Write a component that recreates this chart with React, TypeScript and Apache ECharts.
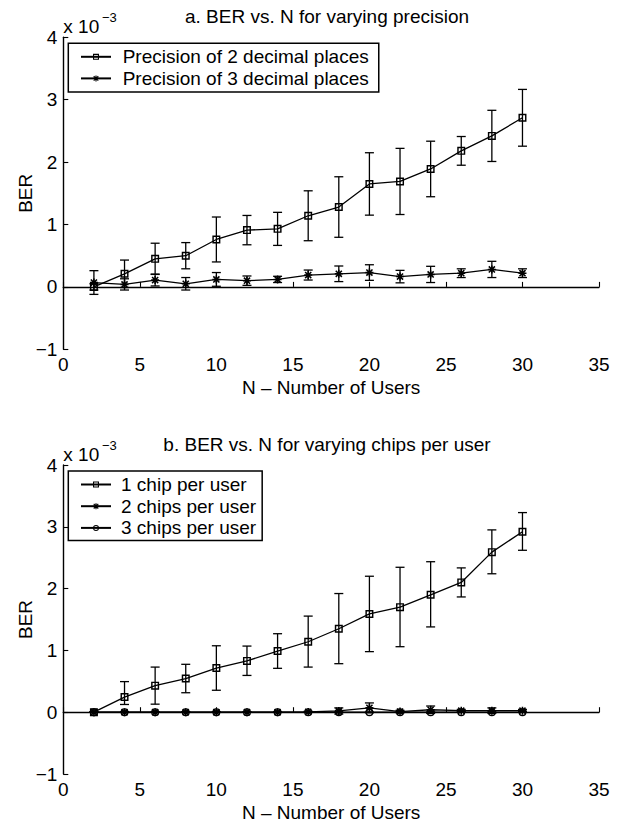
import React, { useEffect, useRef } from "react";
import * as echarts from "echarts";

const N = [2, 4, 6, 8, 10, 12, 14, 16, 18, 20, 22, 24, 26, 28, 30];

const prec2 = [0.0, 0.21, 0.45, 0.5, 0.76, 0.91, 0.93, 1.14, 1.28, 1.65, 1.69, 1.89, 2.18, 2.42, 2.71];
const prec2Err = [0.05, 0.22, 0.25, 0.21, 0.36, 0.235, 0.265, 0.4, 0.485, 0.5, 0.53, 0.445, 0.23, 0.41, 0.455];
const prec3 = [0.07, 0.04, 0.11, 0.05, 0.12, 0.1, 0.12, 0.19, 0.21, 0.23, 0.165, 0.2, 0.22, 0.28, 0.22];
const prec3Err = [0.19, 0.09, 0.095, 0.1, 0.11, 0.075, 0.05, 0.08, 0.125, 0.125, 0.1, 0.13, 0.07, 0.13, 0.07];

const chip1 = [0, 0.245, 0.43, 0.545, 0.715, 0.83, 0.99, 1.14, 1.35, 1.59, 1.7, 1.9, 2.1, 2.59, 2.92];
const chip1ErrHigh = [0, 0.25, 0.3, 0.23, 0.36, 0.24, 0.28, 0.415, 0.57, 0.61, 0.645, 0.535, 0.235, 0.36, 0.31];
const chip1ErrLow = [0, 0.12, 0.3, 0.23, 0.36, 0.235, 0.28, 0.41, 0.565, 0.61, 0.64, 0.52, 0.235, 0.35, 0.3];
const chip2 = [0, 0, 0, 0, 0, 0, 0, 0.005, 0.02, 0.07, 0.01, 0.04, 0.025, 0.025, 0.025];
const chip2Err = [0, 0, 0, 0, 0, 0, 0, 0.01, 0.05, 0.08, 0.02, 0.06, 0.02, 0.045, 0.02];
const chip3 = [0, 0, 0, 0, 0, 0, 0, 0, 0, 0, 0, 0, 0, 0, 0];
const chip3Err = [0, 0, 0, 0, 0, 0, 0, 0, 0, 0, 0, 0, 0, 0, 0];

const titleA = "a. BER vs. N for varying precision";
const titleB = "b. BER vs. N for varying chips per user";
const namesA = ["Precision of 2 decimal places", "Precision of 3 decimal places"];
const namesB = ["1 chip per user", "2 chips per user", "3 chips per user"];
const xName = "N \u2013 Number of Users";
const yName = "BER";

const FONT = "'Liberation Sans', Arial, Helvetica, sans-serif";

const SQUARE = "path://M0 0L20 0L20 20L0 20ZM3.6 3.6L3.6 16.4L16.4 16.4L16.4 3.6Z";
const CIRCLE =
  "path://M10 0A10 10 0 1 1 10 20A10 10 0 1 1 10 0ZM10 3.4A6.6 6.6 0 1 0 10 16.6A6.6 6.6 0 1 0 10 3.4Z";
const STAR =
  "path://M8.1 0L11.9 0L11.9 20L8.1 20ZM0 8.1L20 8.1L20 11.9L0 11.9ZM1 3.7L3.7 1L19 16.3L16.3 19ZM16.3 1L19 3.7L3.7 19L1 16.3Z";

export default function App() {
  const ref = useRef<HTMLDivElement>(null);
  useEffect(() => {
    document.body.style.margin = "0";
    const chart = echarts.init(ref.current!, null, { renderer: "svg" });

    const grids = [
      { left: 63.3, right: 19, top: 37.3, bottom: 823 - 349.3 },
      { left: 63.3, right: 19, top: 465, bottom: 823 - 776.7 },
    ];
    const axisLine = { show: true, lineStyle: { color: "#000", width: 1.4 } };
    const axisTick = { show: true, inside: true, length: 5, lineStyle: { color: "#000", width: 1.1 } };
    const labelStyle = { fontSize: 19, fontFamily: FONT, color: "#000" };
    const xAxes = [0, 1].map((i) => ({
      type: "value",
      gridIndex: i,
      min: 0,
      max: 35,
      interval: 5,
      axisLine,
      axisTick,
      splitLine: { show: false },
      axisLabel: { ...labelStyle, margin: 6 },
      name: xName,
      nameLocation: "middle",
      nameGap: 29,
      nameMoveOverlap: false,
      nameTextStyle: labelStyle,
    }));
    const yAxes = [0, 1].map((i) => ({
      type: "value",
      gridIndex: i,
      min: -1,
      max: 4,
      interval: 1,
      axisLine,
      axisTick,
      splitLine: { show: false },
      axisLabel: {
        ...labelStyle,
        margin: 6,
        formatter: (v: number) => (v < 0 ? "\u2212" + Math.abs(v) : String(v)),
      },
      name: yName,
      nameLocation: "middle",
      nameGap: 28,
      nameMoveOverlap: false,
      nameTextStyle: labelStyle,
    }));

    const lineSeries = (name: string, vals: number[], sym: string, gi: number) => ({
      type: "line",
      name,
      xAxisIndex: gi,
      yAxisIndex: gi,
      data: N.map((n, i) => [n, vals[i]]),
      symbol: sym,
      symbolSize: 8,
      showSymbol: true,
      showAllSymbol: true,
      lineStyle: { color: "#000", width: 1.3 },
      itemStyle: { color: "#000" },
      z: 3,
    });

    const errSeries = (vals: number[], lo: number[], hi: number[], gi: number) => ({
      type: "custom",
      xAxisIndex: gi,
      yAxisIndex: gi,
      data: N.map((n, i) => [n, vals[i] - lo[i], vals[i] + hi[i]]),
      encode: { x: 0, y: [1, 2] },
      z: 2,
      renderItem: (params: any, api: any) => {
        const x = api.value(0);
        const p1 = api.coord([x, api.value(1)]);
        const p2 = api.coord([x, api.value(2)]);
        const w = 4.5;
        const st = { stroke: "#000", lineWidth: 1.3 };
        return {
          type: "group",
          children: [
            { type: "line", shape: { x1: p1[0], y1: p1[1], x2: p2[0], y2: p2[1] }, style: st },
            { type: "line", shape: { x1: p1[0] - w, y1: p1[1], x2: p1[0] + w, y2: p1[1] }, style: st },
            { type: "line", shape: { x1: p2[0] - w, y1: p2[1], x2: p2[0] + w, y2: p2[1] }, style: st },
          ],
        };
      },
    });

    const legendBase = {
      orient: "vertical",
      itemWidth: 30,
      itemHeight: 7.5,
      borderColor: "#000",
      borderWidth: 1.5,
      backgroundColor: "#fff",
      selectedMode: false,
      z: 10,
    };

    const txt = (text: string, x: number, y: number, size: number, align = "left") => ({
      type: "text",
      x,
      y,
      style: {
        text,
        fontSize: size,
        fontFamily: FONT,
        fill: "#000",
        align,
        verticalAlign: "middle",
      },
    });

    chart.setOption({
      animation: false,
      backgroundColor: "#fff",
      grid: grids,
      xAxis: xAxes,
      yAxis: yAxes,
      legend: [
        {
          ...legendBase,
          left: 68.3,
          top: 43.3,
          padding: [4, 10, 4, 11.7],
          itemGap: 2.6,
          textStyle: { fontSize: 19, fontFamily: FONT, color: "#000", padding: [0, 0, 0, 6.7] },
          data: namesA,
        },
        {
          ...legendBase,
          left: 68.3,
          top: 471,
          padding: [4, 6, 3, 11.7],
          itemGap: 2.7,
          textStyle: { fontSize: 19, fontFamily: FONT, color: "#000", padding: [0, 0, 0, 5] },
          data: namesB,
        },
      ],
      graphic: [
        txt(titleA, 327, 16.7, 19, "center"),
        txt(titleB, 327, 444.5, 19, "center"),
        txt("x 10", 63.3, 26.2, 19),
        txt("\u22123", 102, 17.9, 13),
        txt("x 10", 63.3, 454, 19),
        txt("\u22123", 102, 445.7, 13),
      ],
      series: [
        errSeries(prec2, prec2Err, prec2Err, 0),
        errSeries(prec3, prec3Err, prec3Err, 0),
        lineSeries(namesA[0], prec2, SQUARE, 0),
        lineSeries(namesA[1], prec3, STAR, 0),
        errSeries(chip1, chip1ErrLow, chip1ErrHigh, 1),
        errSeries(chip2, chip2Err, chip2Err, 1),
        errSeries(chip3, chip3Err, chip3Err, 1),
        lineSeries(namesB[0], chip1, SQUARE, 1),
        lineSeries(namesB[1], chip2, STAR, 1),
        lineSeries(namesB[2], chip3, CIRCLE, 1),
      ],
    });
    return () => chart.dispose();
  }, []);
  return <div ref={ref} style={{ width: 618, height: 823 }} />;
}
